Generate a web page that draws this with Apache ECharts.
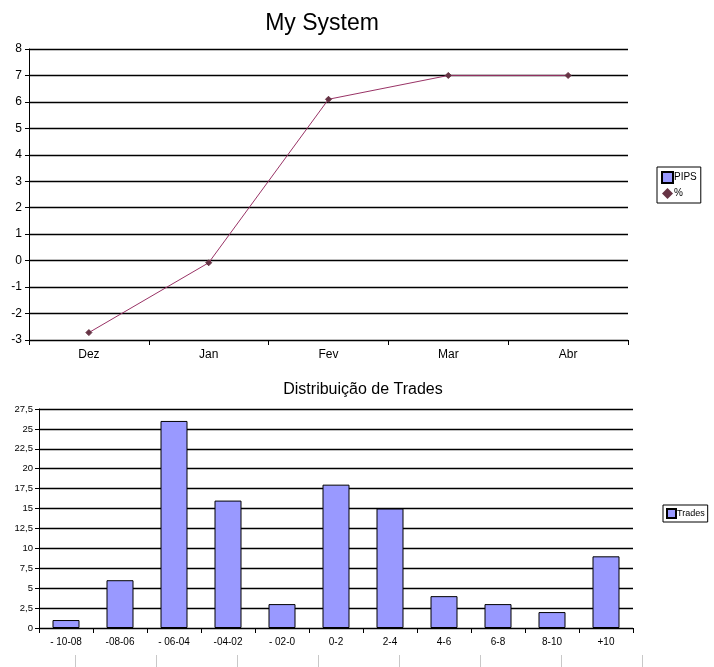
<!DOCTYPE html>
<html><head><meta charset="utf-8">
<script src="https://cdn.jsdelivr.net/npm/echarts@6/dist/echarts.min.js"></script>
<style>html,body{margin:0;padding:0;background:#fff}#c{width:714px;height:667px}</style>
</head><body><div id="c"></div>
<script>
const months = ['Dez','Jan','Fev','Mar','Abr'];
const pips = [null,null,null,null,null];
const pct = [-2.72,-0.08,6.1,7.0,7.0];
const ranges = ['- 10-08','-08-06','- 06-04','-04-02','- 02-0','0-2','2-4','4-6','6-8','8-10','+10'];
const trades = [1,6,26,16,3,18,15,4,3,2,9];

const F = 'Liberation Sans, Arial, sans-serif';
const chart = echarts.init(document.getElementById('c'), null, {renderer:'canvas'});
chart.setOption({
  animation:false,
  backgroundColor:'#fff',
  title:[
    {text:'My System', left:317, top:7, textAlign:'center', textStyle:{fontFamily:F, fontSize:23, fontWeight:'normal', color:'#000'}},
    {text:'Distribuição de Trades', left:358, top:377, textAlign:'center', textStyle:{fontFamily:F, fontSize:16, fontWeight:'normal', color:'#000'}}
  ],
  legend:[
    {data:[{name:'PIPS', icon:'rect'},{name:'%', icon:'diamond'}], orient:'vertical', left:657, top:167,
     itemWidth:11, itemHeight:11, itemGap:4, padding:[4,4,4,4], borderColor:'#000', borderWidth:1, backgroundColor:'#fff',
     textStyle:{fontFamily:F, fontSize:10, color:'#000', padding:[0,0,0,-4]}},
    {data:[{name:'Trades', icon:'rect'}], left:663, top:505, itemWidth:9, itemHeight:9, padding:[3,3,3,3],
     borderColor:'#000', borderWidth:1, backgroundColor:'#fff', textStyle:{fontFamily:F, fontSize:9, color:'#000', padding:[0,0,0,-4]}}
  ],
  grid:[
    {left:29, right:86, top:49, height:291},
    {left:39, right:81, top:409, height:219},
    {left:75, width:567, top:655, bottom:0}
  ],
  xAxis:[
    {type:'category', gridIndex:0, data:months, boundaryGap:true,
     axisLine:{onZero:false, lineStyle:{color:'#000',width:1}}, axisTick:{show:true, length:5, lineStyle:{color:'#000'}},
     axisLabel:{fontFamily:F, fontSize:12, color:'#000', margin:9}},
    {type:'category', gridIndex:1, data:ranges, boundaryGap:true,
     axisLine:{onZero:false, lineStyle:{color:'#000',width:1}}, axisTick:{show:true, length:5, lineStyle:{color:'#000'}},
     axisLabel:{fontFamily:F, fontSize:10, color:'#000', margin:9, interval:0}},
    {type:'value', gridIndex:2, min:0, max:7, interval:1, axisLine:{show:false}, axisTick:{show:false},
     axisLabel:{show:false}, splitLine:{show:true, lineStyle:{color:'#c8c8c8'}}}
  ],
  yAxis:[
    {type:'value', gridIndex:0, min:-3, max:8, interval:1,
     axisLine:{show:true, onZero:false, lineStyle:{color:'#000'}}, axisTick:{show:true, length:4, lineStyle:{color:'#000'}},
     axisLabel:{fontFamily:F, fontSize:12, color:'#000', margin:7},
     splitLine:{lineStyle:{color:'#000', width:1.3}}},
    {type:'value', gridIndex:1, min:0, max:27.5, interval:2.5,
     axisLine:{show:true, onZero:false, lineStyle:{color:'#000'}}, axisTick:{show:true, length:4, lineStyle:{color:'#000'}},
     axisLabel:{fontFamily:F, fontSize:9.5, color:'#000', margin:6, formatter:v=>String(v).replace('.',',')},
     splitLine:{lineStyle:{color:'#000', width:1.3}}},
    {type:'value', gridIndex:2, show:false}
  ],
  series:[
    {name:'PIPS', type:'bar', xAxisIndex:0, yAxisIndex:0, data:pips, itemStyle:{color:'#9999ff', borderColor:'#000', borderWidth:1}},
    {name:'%', type:'line', xAxisIndex:0, yAxisIndex:0, data:pct, symbol:'diamond', symbolSize:6,
     lineStyle:{color:'#993366', width:1}, itemStyle:{color:'#663344', borderColor:'#663344'}},
    {name:'Trades', type:'bar', xAxisIndex:1, yAxisIndex:1, data:trades, barWidth:'50%',
     itemStyle:{color:'#9999ff', borderColor:'#000', borderWidth:1}},
    {type:'line', xAxisIndex:2, yAxisIndex:2, data:[], silent:true}
  ]
});
</script></body></html>
